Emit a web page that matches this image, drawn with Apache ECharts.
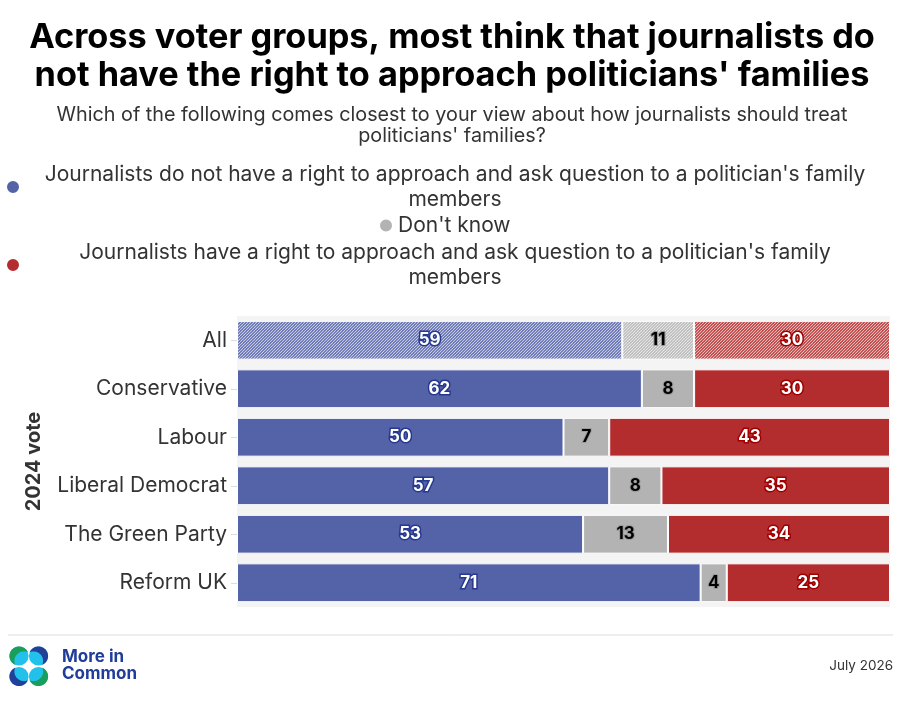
<!DOCTYPE html>
<html>
<head>
<meta charset="utf-8">
<script src="https://cdn.jsdelivr.net/npm/echarts@6/dist/echarts.min.js"></script>
<style>
  html, body { margin: 0; padding: 0; background: #fff; }
  #chart { width: 904px; height: 702px; }
</style>
</head>
<body>
<div id="chart"></div>
<script>
var categories = ['All', 'Conservative', 'Labour', 'Liberal Democrat', 'The Green Party', 'Reform UK'];
var noRight = [59, 62, 50, 57, 53, 71];
var dontKnow = [11, 8, 7, 8, 13, 4];
var haveRight = [30, 30, 43, 35, 34, 25];
var seriesNames = [
    "Journalists do not have a right to approach and ask question to a politician's family members",
    "Don't know",
    "Journalists have a right to approach and ask question to a politician's family members"
];

var BLUE = '#5462a8', GRAY = '#b3b3b3', RED = '#b32d2f';
var FONT = 'Inter, "Noto Sans", sans-serif';

// diagonal hatch used for the "All" row
function hatch(color) {
    var c = document.createElement('canvas');
    c.width = 6; c.height = 6;
    var ctx = c.getContext('2d');
    ctx.fillStyle = color;
    ctx.fillRect(0, 0, 6, 6);
    ctx.strokeStyle = 'rgba(255,255,255,0.7)';
    ctx.lineWidth = 1.1;
    for (var k = 0; k <= 12; k += 3) {
        ctx.beginPath();
        ctx.moveTo(k - 6, 6);
        ctx.lineTo(k, 0);
        ctx.stroke();
    }
    return { image: c, repeat: 'repeat' };
}

function withHatch(values, color) {
    return values.map(function (v, i) {
        if (i === 0) return { value: v, itemStyle: { color: hatch(color) } };
        return v;
    });
}

// crescent of circle (cx,cy,r) outside an equal circle shifted by (dx,dy)
function crescent(cx, cy, r, dx, dy) {
    var d = Math.sqrt(dx * dx + dy * dy);
    var dir = Math.atan2(dy, dx);
    var a = Math.acos(d / (2 * r));
    var pts = [], n = 30, i, t;
    for (i = 0; i <= n; i++) {
        t = dir + a + (2 * Math.PI - 2 * a) * i / n;
        pts.push([cx + r * Math.cos(t), cy + r * Math.sin(t)]);
    }
    for (i = 0; i <= n; i++) {
        t = dir + Math.PI + a - 2 * a * i / n;
        pts.push([cx + dx + r * Math.cos(t), cy + dy + r * Math.sin(t)]);
    }
    return pts;
}

function petal(cx, cy, color, dx, dy) {
    return [
        { type: 'circle', shape: { cx: cx, cy: cy, r: 9.6 }, style: { fill: '#22c1ec' } },
        { type: 'polygon', shape: { points: crescent(cx, cy, 9.6, dx, dy) }, style: { fill: color } }
    ];
}

function legendItem(name, top, left, wide) {
    return {
        data: [name],
        top: top,
        left: left,
        padding: 0,
        icon: 'circle',
        itemWidth: 14,
        itemHeight: 14,
        selectedMode: false,
        formatter: function (n) {
            if (!wide) return n;
            var cut = n.lastIndexOf(' ');
            return '{t|' + n.slice(0, cut) + '}\n{t|' + n.slice(cut + 1) + '}';
        },
        textStyle: {
            fontFamily: FONT,
            fontSize: 21,
            color: '#333',
            lineHeight: 25,
            rich: { t: { width: 860, align: 'center', fontFamily: FONT, fontSize: 21, color: '#333', lineHeight: 25 } }
        }
    };
}

var labelBase = {
    show: true,
    position: 'inside',
    fontFamily: FONT,
    fontWeight: 'bold',
    fontSize: 17,
    textBorderWidth: 3
};

var myChart = echarts.init(document.getElementById('chart'));

var logo = [].concat(
    petal(19, 656, '#1a9e5c', 5, 5),
    petal(38.5, 656, '#22409a', -5, 5),
    petal(19, 676.5, '#22409a', 5, -5),
    petal(38.5, 676.5, '#1a9e5c', -5, -5)
);

option = {
    backgroundColor: '#fff',
    animation: false,
    title: [{
        text: 'Across voter groups, most think that journalists do\nnot have the right to approach politicians\' families',
        left: 'center',
        top: 14,
        textStyle: { fontFamily: FONT, fontWeight: 'bold', fontSize: 34.3, lineHeight: 38, color: '#000' }
    }, {
        text: 'Which of the following comes closest to your view about how journalists should treat\npoliticians\' families?',
        left: 'center',
        top: 100,
        textStyle: { fontFamily: FONT, fontWeight: 'normal', fontSize: 19.8, lineHeight: 21, color: '#333' }
    }],
    legend: [
        legendItem(seriesNames[0], 162, 5, true),
        legendItem(seriesNames[1], 213, 378, false),
        legendItem(seriesNames[2], 240, 5, true)
    ],
    grid: {
        left: 237,
        right: 14,
        top: 316,
        bottom: 95,
        show: true,
        backgroundColor: '#f4f4f4',
        borderWidth: 0
    },
    xAxis: {
        type: 'value',
        min: 0,
        max: 100,
        show: false
    },
    yAxis: {
        type: 'category',
        data: categories,
        inverse: true,
        name: '2024 vote',
        nameLocation: 'middle',
        nameRotate: 90,
        nameGap: 193,
        nameTextStyle: { fontFamily: FONT, fontWeight: 'bold', fontSize: 20, color: '#333' },
        axisLine: { show: false },
        axisTick: { show: true, alignWithLabel: true, length: 6, lineStyle: { color: '#dcdcdc' } },
        axisLabel: { fontFamily: FONT, fontSize: 21, color: '#333', margin: 10 }
    },
    series: [
        {
            name: seriesNames[0],
            type: 'bar',
            stack: 'total',
            barWidth: '80%',
            data: withHatch(noRight, BLUE),
            itemStyle: { color: BLUE, borderColor: '#fff', borderWidth: 1 },
            label: Object.assign({}, labelBase, { color: '#fff', textBorderColor: '#26388f' })
        },
        {
            name: seriesNames[1],
            type: 'bar',
            stack: 'total',
            data: withHatch(dontKnow, GRAY),
            itemStyle: { color: GRAY, borderColor: '#fff', borderWidth: 1 },
            label: Object.assign({}, labelBase, { color: '#000', textBorderColor: '#9c9c9c', textBorderWidth: 2 })
        },
        {
            name: seriesNames[2],
            type: 'bar',
            stack: 'total',
            data: withHatch(haveRight, RED),
            itemStyle: { color: RED, borderColor: '#fff', borderWidth: 1 },
            label: Object.assign({}, labelBase, { color: '#fff', textBorderColor: '#a00000' })
        }
    ],
    graphic: [
        { type: 'line', shape: { x1: 8, y1: 635, x2: 893, y2: 635 }, style: { stroke: '#dddddd', lineWidth: 1 } },
        { type: 'group', children: logo },
        {
            type: 'text', left: 62, top: 648,
            style: { text: 'More in\nCommon', fontFamily: FONT, fontWeight: 'bold', fontSize: 17, lineHeight: 17, fill: '#1f3d99' }
        },
        {
            type: 'text', right: 11, top: 659,
            style: { text: 'July 2026', fontFamily: FONT, fontSize: 13.5, fill: '#333' }
        }
    ]
};

myChart.setOption(option);
window.addEventListener("resize", function () {
    myChart.resize();
});
</script>
</body>
</html>
